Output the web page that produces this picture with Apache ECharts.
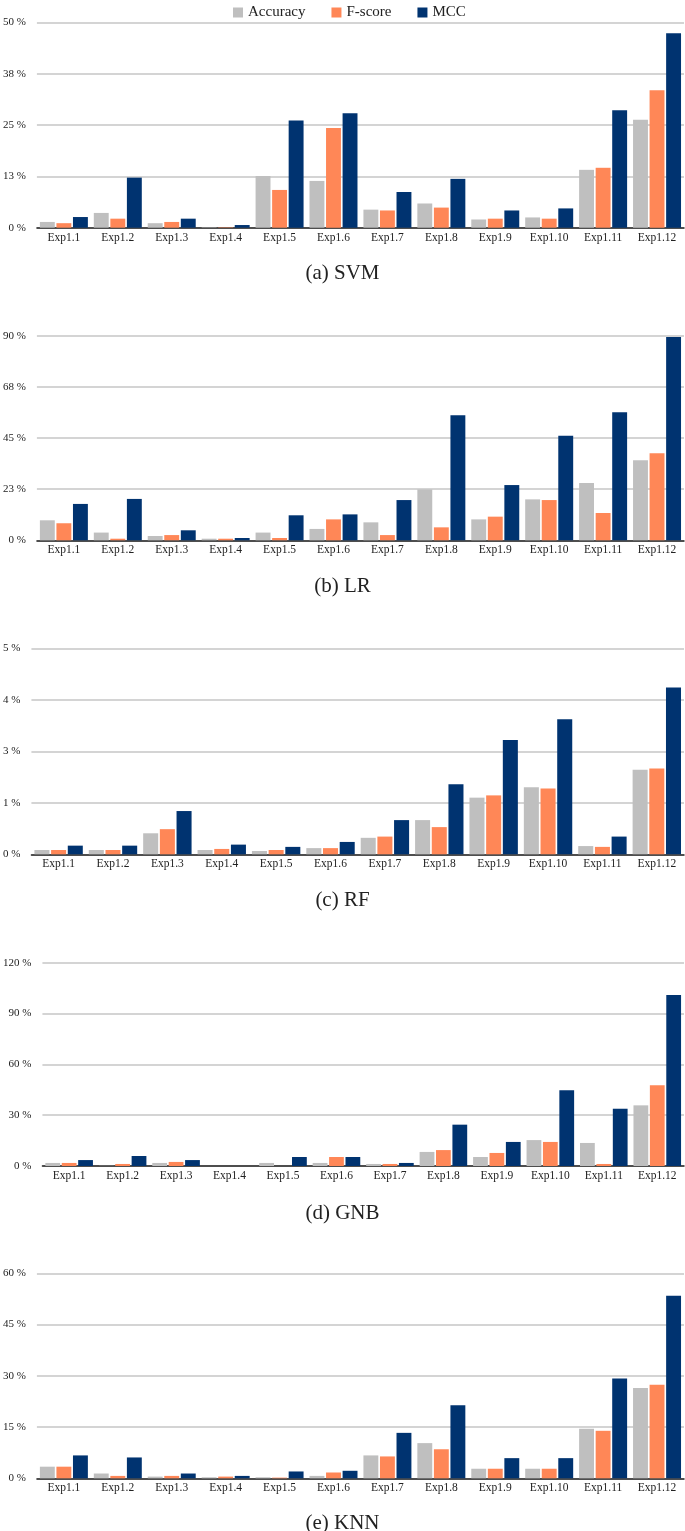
<!DOCTYPE html>
<html>
<head>
<meta charset="utf-8">
<script src="https://cdn.jsdelivr.net/npm/echarts@6/dist/echarts.min.js"></script>
<style>html,body{margin:0;padding:0;background:#fff}#c{width:685px;height:1531px}</style>
</head>
<body>
<div id="c"></div>
<script>
const categories = ['Exp1.1','Exp1.2','Exp1.3','Exp1.4','Exp1.5','Exp1.6','Exp1.7','Exp1.8','Exp1.9','Exp1.10','Exp1.11','Exp1.12'];
const seriesNames = ['Accuracy','F-score','MCC'];
const captions = ['(a) SVM','(b) LR','(c) RF','(d) GNB','(e) KNN'];
const yMax = [50, 90, 5, 120, 60];
const yInterval = [12.5, 22.5, 1.25, 30, 15];

const svmAccuracy = [1.4, 3.6, 1.1, 0.1, 12.6, 11.4, 4.4, 5.9, 2.0, 2.5, 14.1, 26.3];
const svmFscore   = [1.1, 2.2, 1.4, 0.1, 9.2, 24.3, 4.2, 4.9, 2.2, 2.2, 14.6, 33.5];
const svmMCC      = [2.6, 12.2, 2.2, 0.65, 26.1, 27.9, 8.7, 11.9, 4.2, 4.7, 28.6, 47.4];

const lrAccuracy = [8.8, 3.4, 1.9, 0.7, 3.4, 5.0, 7.9, 22.4, 9.2, 18.0, 25.2, 35.2];
const lrFscore   = [7.5, 0.7, 2.3, 0.7, 1.0, 9.2, 2.3, 5.7, 10.4, 17.7, 12.0, 38.3];
const lrMCC      = [16.0, 18.2, 4.4, 1.0, 11.0, 11.4, 17.7, 55.0, 24.3, 46.0, 56.3, 89.4];

const rfAccuracy = [0.105, 0.105, 0.51, 0.105, 0.08, 0.15, 0.40, 0.83, 1.375, 1.63, 0.20, 2.05];
const rfFscore   = [0.105, 0.105, 0.61, 0.13, 0.105, 0.15, 0.43, 0.66, 1.43, 1.60, 0.18, 2.08];
const rfMCC      = [0.21, 0.21, 1.05, 0.235, 0.18, 0.30, 0.83, 1.70, 2.775, 3.28, 0.43, 4.05];

const gnbAccuracy = [1.8, 0.1, 1.8, 0, 1.8, 1.8, 1.2, 8.3, 5.3, 15.3, 13.6, 35.8];
const gnbFscore   = [1.8, 1.2, 2.4, 0, 0, 5.3, 1.2, 9.4, 7.7, 14.2, 1.2, 47.6];
const gnbMCC      = [3.5, 5.9, 3.5, 0, 5.3, 5.3, 1.8, 24.4, 14.2, 44.7, 33.8, 100.9];

const knnAccuracy = [3.4, 1.4, 0.5, 0.3, 0.3, 0.7, 6.7, 10.3, 2.8, 2.8, 14.5, 26.4];
const knnFscore   = [3.4, 0.7, 0.7, 0.5, 0.2, 1.7, 6.4, 8.5, 2.8, 2.8, 13.9, 27.4];
const knnMCC      = [6.7, 6.1, 1.4, 0.7, 2.0, 2.2, 13.3, 21.4, 5.9, 5.9, 29.2, 53.4];

const panels = [
  [svmAccuracy, svmFscore, svmMCC],
  [lrAccuracy, lrFscore, lrMCC],
  [rfAccuracy, rfFscore, rfMCC],
  [gnbAccuracy, gnbFscore, gnbMCC],
  [knnAccuracy, knnFscore, knnMCC]
];

const colors = ['#bfbfbf', '#ff8757', '#003370'];
const FONT = 'Liberation Serif';
const gridLayout = [
  {left: 32, top: 22.5, height: 205.2},
  {left: 32, top: 335.7, height: 204.6},
  {left: 27, top: 648.3, height: 206},
  {left: 36, top: 962.7, height: 203.3},
  {left: 32, top: 1273.3, height: 205}
];
const captionTop = [258, 571, 885, 1198, 1508];

const grids = [], xAxes = [], yAxes = [], series = [], titles = [];
panels.forEach((p, i) => {
  const g = gridLayout[i];
  grids.push({left: g.left, right: 1, top: g.top, height: g.height, containLabel: false});
  xAxes.push({
    type: 'category', gridIndex: i, data: categories,
    axisLine: {lineStyle: {color: '#222', width: 1.5}},
    axisTick: {show: false},
    axisLabel: {fontFamily: FONT, fontSize: 11.5, color: '#222', margin: 4, interval: 0}
  });
  yAxes.push({
    type: 'value', gridIndex: i, min: 0, max: yMax[i], interval: yInterval[i],
    axisLine: {show: false}, axisTick: {show: false},
    splitLine: {lineStyle: {color: '#c6c6c6', width: 1.5}},
    axisLabel: {fontFamily: FONT, fontSize: 11, color: '#222', margin: 11,
      formatter: v => Math.round(v) + ' %'}
  });
  p.forEach((vals, k) => {
    series.push({
      type: 'bar', name: seriesNames[k], xAxisIndex: i, yAxisIndex: i,
      data: vals, barGap: '11%', barCategoryGap: '11%',
      itemStyle: {color: colors[k]}, emphasis: {disabled: true}
    });
  });
  titles.push({text: captions[i], left: 'center', top: captionTop[i],
    textStyle: {fontFamily: FONT, fontSize: 21, fontWeight: 'normal', color: '#222'}});
});

const chart = echarts.init(document.getElementById('c'), null, {renderer: 'canvas'});
chart.setOption({
  animation: false,
  backgroundColor: '#fff',
  title: titles,
  legend: {
    data: seriesNames, top: 0, left: 228, itemWidth: 10, itemHeight: 10, itemGap: 26,
    icon: 'rect',
    textStyle: {fontFamily: FONT, fontSize: 15, color: '#222'}
  },
  grid: grids, xAxis: xAxes, yAxis: yAxes, series: series
});
</script>
</body>
</html>
